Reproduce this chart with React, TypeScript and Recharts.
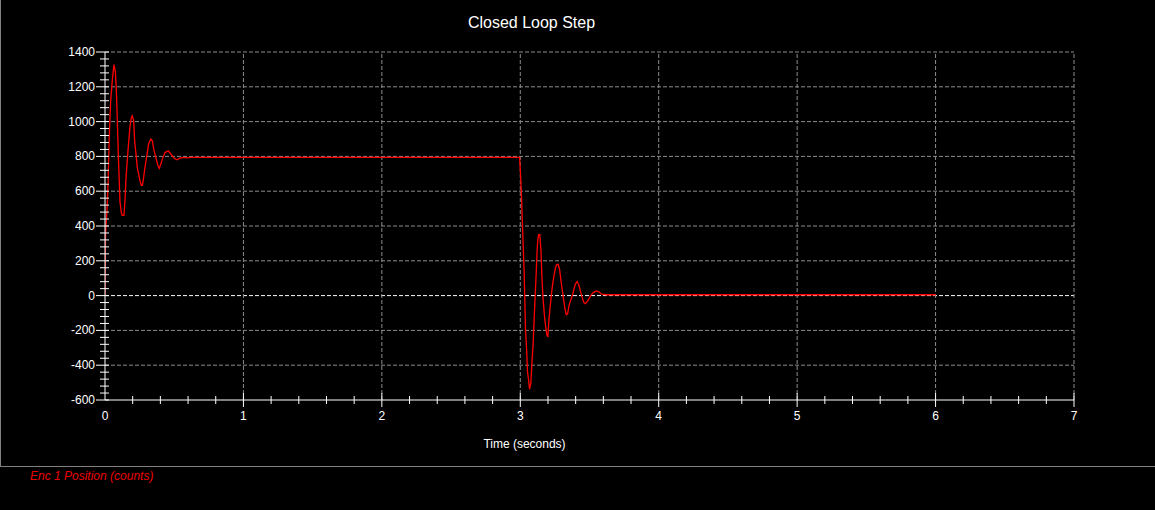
import React from 'react';
import { LineChart, Line, XAxis, YAxis, ReferenceLine } from 'recharts';

const chartTitle = 'Closed Loop Step';
const xAxisTitle = 'Time (seconds)';
const seriesName = 'Enc 1 Position (counts)';

const timeSeconds = [
  0, 0.004, 0.015, 0.022, 0.031, 0.041, 0.051, 0.058, 0.065, 0.075,
  0.082, 0.089, 0.096, 0.102, 0.108, 0.118, 0.125, 0.137, 0.144, 0.152,
  0.164, 0.173, 0.181, 0.19, 0.197, 0.207, 0.214, 0.224, 0.233, 0.243,
  0.253, 0.262, 0.27, 0.279, 0.287, 0.296, 0.306, 0.315, 0.325, 0.332,
  0.342, 0.352, 0.361, 0.373, 0.383, 0.392, 0.403, 0.414, 0.433, 0.457,
  0.481, 0.5, 0.52, 0.542, 0.566, 0.59, 0.62, 2.995,
  3.002, 3.009, 3.013, 3.019, 3.028, 3.038, 3.047, 3.052, 3.06, 3.067,
  3.076, 3.084, 3.093, 3.103, 3.113, 3.122, 3.127, 3.133, 3.141, 3.149,
  3.156, 3.165, 3.175, 3.183, 3.192, 3.199, 3.207, 3.216, 3.226, 3.235,
  3.245, 3.254, 3.264, 3.274, 3.284, 3.293, 3.303, 3.313, 3.322, 3.332,
  3.342, 3.351, 3.361, 3.371, 3.38, 3.39, 3.399, 3.411, 3.425, 3.443,
  3.459, 3.471, 3.49, 3.508, 3.527, 3.551, 3.57, 3.587, 3.62, 6.0,
];

const encPosition = [
  0, 350, 500, 640, 920, 1120, 1220, 1280, 1328, 1285,
  1180, 1006, 813, 678, 543, 476, 461, 461, 543, 678,
  813, 900, 977, 1021, 1033, 1006, 890, 813, 736, 698,
  659, 634, 634, 678, 727, 775, 823, 871, 890, 900,
  890, 842, 813, 775, 746, 731, 755, 783, 822, 832,
  808, 789, 781, 790, 794, 792, 794, 794,
  698, 564, 467, 333, 131, -196, -331, -437, -485, -538,
  -504, -388, -273, -81, 92, 265, 323, 350, 350, 265,
  111, -23, -119, -177, -225, -238, -138, -62, 16, 73,
  121, 160, 179, 179, 150, 92, 35, -23, -71, -110,
  -105, -62, -33, -13, 12, 45, 68, 81, 56, 0,
  -40, -46, -27, 0, 17, 27, 20, 8, 5, 5,
];

const xMajorTicks = [0, 1, 2, 3, 4, 5, 6, 7];
const yMajorTicks = [-600, -400, -200, 0, 200, 400, 600, 800, 1000, 1200, 1400];
const minorDivisions = 5;

const withMinor = (majors: number[]) => {
  const out: number[] = [];
  for (let i = 0; i < majors.length - 1; i++) {
    for (let k = 0; k < minorDivisions; k++) {
      const v = majors[i] + ((majors[i + 1] - majors[i]) * k) / minorDivisions;
      out.push(Math.round(v * 1000) / 1000);
    }
  }
  out.push(majors[majors.length - 1]);
  return out;
};

const xTicks = withMinor(xMajorTicks);
const yTicks = withMinor(yMajorTicks);

const data = timeSeconds.map((t, i) => ({ t, pos: encPosition[i] }));

const FONT = 'Arial, "Liberation Sans", sans-serif';
const GRID = '#8c8c8c';

const XTick = (props: any) => {
  const { x, y, payload } = props;
  const v = payload.value;
  const major = xMajorTicks.includes(v);
  return (
    <g>
      {v !== 0 && (
        <line x1={x} x2={x} y1={y - (major ? 7 : 4)} y2={y + (major ? 7 : 4)} stroke="#fff" strokeWidth={1} />
      )}
      {major && (
        <text x={x} y={y + 20} fill="#fff" fontSize={12} fontFamily={FONT} textAnchor="middle">
          {v}
        </text>
      )}
    </g>
  );
};

const YTick = (props: any) => {
  const { x, y, payload } = props;
  const v = payload.value;
  const major = yMajorTicks.includes(v);
  return (
    <g>
      <line x1={x - (major ? 9 : 5)} x2={x + 4} y1={y} y2={y} stroke="#fff" strokeWidth={1} />
      {major && (
        <text x={x - 10} y={y + 4} fill="#fff" fontSize={12} fontFamily={FONT} textAnchor="end">
          {v}
        </text>
      )}
    </g>
  );
};

export default function App() {
  return (
    <div
      style={{
        position: 'fixed',
        left: 0,
        top: 0,
        width: 1155,
        height: 510,
        background: '#000',
        overflow: 'hidden',
        fontFamily: FONT,
      }}
    >
      <div
        style={{
          position: 'absolute',
          left: 0,
          top: 0,
          width: 1155,
          height: 467,
          boxSizing: 'border-box',
          borderLeft: '1px solid #808080',
          borderBottom: '1px solid #808080',
        }}
      />
      <div style={{ position: 'absolute', left: 0, top: 0 }}>
        <LineChart width={1155} height={510} data={data} margin={{ top: 52, right: 81, left: 0, bottom: 0 }}>
          {yMajorTicks
            .filter((v) => v !== -600)
            .map((v) => (
              <ReferenceLine
                key={'gy' + v}
                y={v}
                stroke={v === 0 ? '#ffffff' : GRID}
                strokeDasharray="4 2"
                strokeWidth={1}
              />
            ))}
          {xMajorTicks
            .filter((v) => v !== 0)
            .map((v) => (
              <ReferenceLine key={'gx' + v} x={v} stroke={GRID} strokeDasharray="4 2" strokeWidth={1} />
            ))}
          <XAxis
            dataKey="t"
            type="number"
            domain={[0, 7]}
            ticks={xTicks}
            interval={0}
            tick={(p: any) => <XTick {...p} />}
            tickLine={false}
            tickSize={0}
            tickMargin={0}
            height={110}
            axisLine={{ stroke: '#fff', strokeWidth: 1 }}
            allowDataOverflow
          />
          <YAxis
            type="number"
            domain={[-600, 1400]}
            ticks={yTicks}
            interval={0}
            tick={(p: any) => <YTick {...p} />}
            tickLine={false}
            tickSize={0}
            tickMargin={0}
            width={105}
            axisLine={{ stroke: '#fff', strokeWidth: 1 }}
            allowDataOverflow
          />
          <Line
            type="linear"
            dataKey="pos"
            name={seriesName}
            stroke="#ff0000"
            strokeWidth={1.3}
            dot={false}
            activeDot={false}
            isAnimationActive={false}
          />
        </LineChart>
      </div>
      <div
        style={{
          position: 'absolute',
          left: 0,
          top: 14,
          width: 1063,
          textAlign: 'center',
          color: '#fff',
          fontSize: 16,
          lineHeight: '18px',
        }}
      >
        {chartTitle}
      </div>
      <div
        style={{
          position: 'absolute',
          left: 0,
          top: 437,
          width: 1049,
          textAlign: 'center',
          color: '#fff',
          fontSize: 12,
          lineHeight: '14px',
        }}
      >
        {xAxisTitle}
      </div>
      <div
        style={{
          position: 'absolute',
          left: 30,
          top: 469,
          color: '#ee0000',
          fontSize: 12,
          fontStyle: 'italic',
          lineHeight: '14px',
          whiteSpace: 'nowrap',
        }}
      >
        {seriesName}
      </div>
    </div>
  );
}
